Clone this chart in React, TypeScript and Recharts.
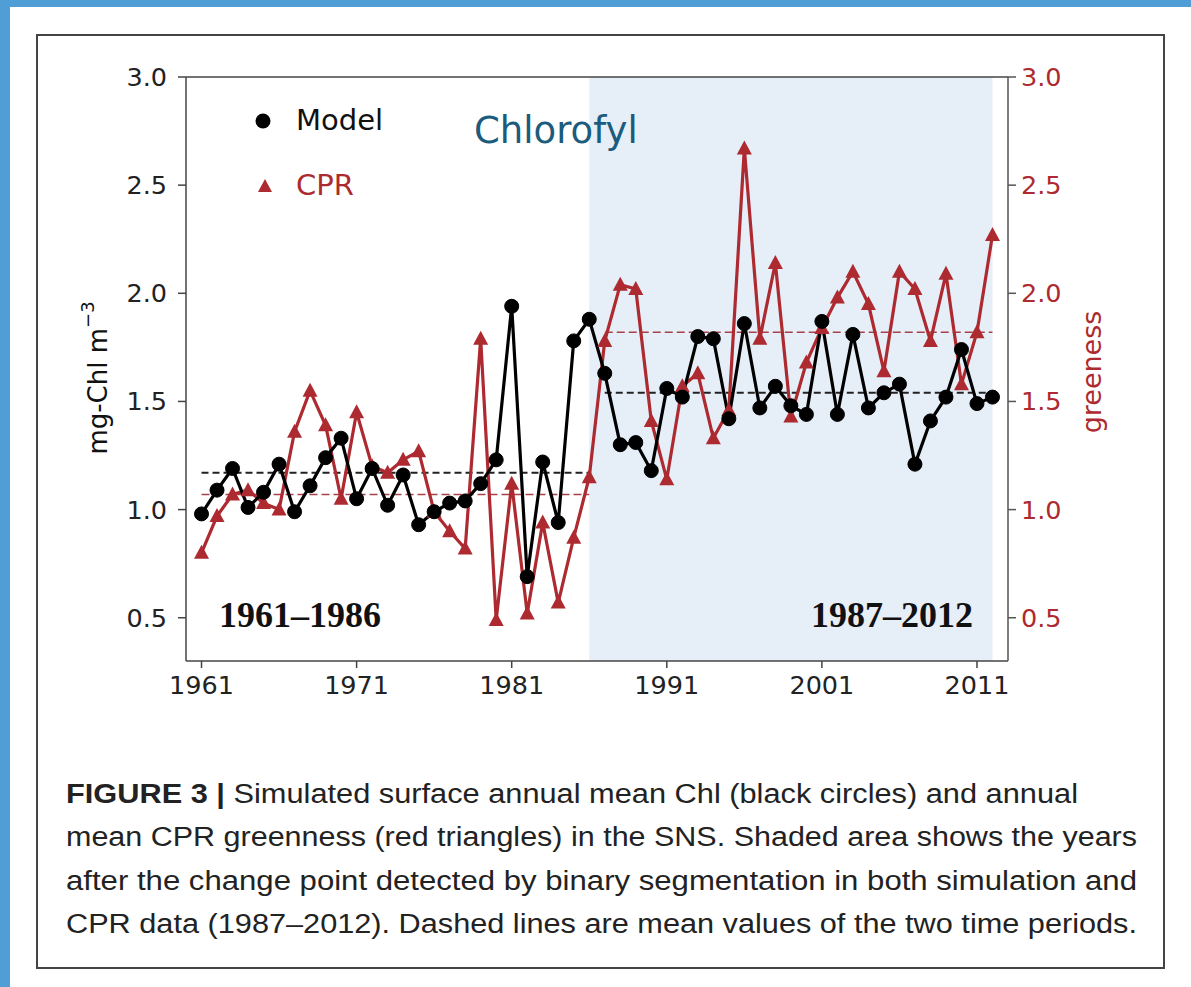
import React from 'react';
import {
  ComposedChart,
  Line,
  XAxis,
  YAxis,
  ReferenceArea,
  ReferenceLine,
  Legend,
} from 'recharts';

// years of the series
const years = [
  1961, 1962, 1963, 1964, 1965, 1966, 1967, 1968, 1969, 1970,
  1971, 1972, 1973, 1974, 1975, 1976, 1977, 1978, 1979, 1980,
  1981, 1982, 1983, 1984, 1985, 1986, 1987, 1988, 1989, 1990,
  1991, 1992, 1993, 1994, 1995, 1996, 1997, 1998, 1999, 2000,
  2001, 2002, 2003, 2004, 2005, 2006, 2007, 2008, 2009, 2010,
  2011, 2012,
];

// simulated annual mean Chl (mg-Chl m-3)
const modelChl = [
  0.98, 1.09, 1.19, 1.01, 1.08, 1.21, 0.99, 1.11, 1.24, 1.33,
  1.05, 1.19, 1.02, 1.16, 0.93, 0.99, 1.03, 1.04, 1.12, 1.23,
  1.94, 0.69, 1.22, 0.94, 1.78, 1.88, 1.63, 1.30, 1.31, 1.18,
  1.56, 1.52, 1.80, 1.79, 1.42, 1.86, 1.47, 1.57, 1.48, 1.44,
  1.87, 1.44, 1.81, 1.47, 1.54, 1.58, 1.21, 1.41, 1.52, 1.74,
  1.49, 1.52,
];

// CPR greenness
const cprGreenness = [
  0.80, 0.97, 1.07, 1.09, 1.03, 1.00, 1.36, 1.55, 1.39, 1.05,
  1.45, 1.20, 1.17, 1.23, 1.27, 0.99, 0.90, 0.82, 1.79, 0.49,
  1.12, 0.52, 0.94, 0.57, 0.87, 1.15, 1.78, 2.04, 2.02, 1.41,
  1.14, 1.57, 1.63, 1.33, 1.46, 2.67, 1.79, 2.14, 1.43, 1.68,
  1.84, 1.98, 2.10, 1.95, 1.64, 2.10, 2.02, 1.78, 2.09, 1.58,
  1.82, 2.27,
];

// period means (first period, second period)
const periods = [
  [1961, 1986],
  [1987, 2012],
];
const modelMeans = [1.17, 1.54];
const cprMeans = [1.07, 1.82];

const xTicks = [1961, 1971, 1981, 1991, 2001, 2011];
const yTicks = [0.5, 1.0, 1.5, 2.0, 2.5, 3.0];

const RED = '#ad2a30';
const TICK_FONT = { fontFamily: 'DejaVu Sans', fontSize: 25.5 };

const data = years.map((year, i) => ({
  year,
  model: modelChl[i],
  cpr: cprGreenness[i],
}));

const TriangleDot = (props: any) => {
  const { cx, cy, index } = props;
  if (cx == null || cy == null) return null;
  return (
    <polygon
      key={`tri-${index}`}
      points={`${cx},${cy - 8} ${cx - 7.5},${cy + 6} ${cx + 7.5},${cy + 6}`}
      fill={RED}
    />
  );
};

const LegendBox = () => (
  <div style={{ fontFamily: 'DejaVu Sans', fontSize: 29, lineHeight: '65px' }}>
    <div style={{ display: 'flex', alignItems: 'center', color: '#111' }}>
      <svg width={46} height={30}>
        <circle cx={13} cy={15} r={7.5} fill="#000" />
      </svg>
      <span>Model</span>
    </div>
    <div style={{ display: 'flex', alignItems: 'center', color: RED }}>
      <svg width={46} height={30}>
        <polygon points="15,8 8,21 22,21" fill={RED} />
      </svg>
      <span>CPR</span>
    </div>
  </div>
);

const captionLines = [
  { bold: 'FIGURE 3 | ', text: 'Simulated surface annual mean Chl (black circles) and annual', len: 1012 },
  { bold: '', text: 'mean CPR greenness (red triangles) in the SNS. Shaded area shows the years', len: 1071 },
  { bold: '', text: 'after the change point detected by binary segmentation in both simulation and', len: 1071 },
  { bold: '', text: 'CPR data (1987\u20132012). Dashed lines are mean values of the two time periods.', len: 1071 },
];

export default function App() {
  return (
    <div
      style={{
        position: 'absolute',
        left: 0,
        top: 0,
        width: 1191,
        height: 987,
        background: '#fff',
        overflow: 'hidden',
      }}
    >
      {/* slide frame */}
      <div style={{ position: 'absolute', left: 0, top: 0, width: 1191, height: 7, background: '#4f9ed6' }} />
      <div style={{ position: 'absolute', left: 0, top: 0, width: 10, height: 987, background: '#4f9ed6' }} />
      <div
        style={{
          position: 'absolute',
          left: 36,
          top: 34,
          width: 1125,
          height: 931,
          border: '2px solid #444',
          boxSizing: 'content-box',
        }}
      />

      <div style={{ position: 'absolute', left: 0, top: 0 }}>
        <ComposedChart
          width={1191}
          height={987}
          data={data}
          margin={{ top: 77, right: 123, left: 126, bottom: 286 }}
        >
          <ReferenceArea
            yAxisId="left"
            x1={1986}
            x2={2012}
            y1={0.3}
            y2={3.0}
            fill="#e6eef7"
            fillOpacity={1}
            stroke="none"
            ifOverflow="visible"
          />
          <XAxis
            dataKey="year"
            type="number"
            domain={[1960, 2013]}
            ticks={xTicks}
            allowDataOverflow
            height={40}
            tick={{ ...TICK_FONT, fill: '#222' }}
            tickSize={7}
            tickMargin={8}
            axisLine={{ stroke: '#444', strokeWidth: 1.5 }}
            tickLine={{ stroke: '#444', strokeWidth: 1.5 }}
          />
          <YAxis
            yAxisId="left"
            orientation="left"
            domain={[0.3, 3.0]}
            ticks={yTicks}
            allowDataOverflow
            width={60}
            tickFormatter={(v: number) => v.toFixed(1)}
            tick={{ ...TICK_FONT, fill: '#222' }}
            tickSize={8}
            tickMargin={11}
            axisLine={{ stroke: '#444', strokeWidth: 1.5 }}
            tickLine={{ stroke: '#444', strokeWidth: 1.5 }}
          />
          <YAxis
            yAxisId="right"
            orientation="right"
            domain={[0.3, 3.0]}
            ticks={yTicks}
            allowDataOverflow
            width={60}
            tickFormatter={(v: number) => v.toFixed(1)}
            tick={{ ...TICK_FONT, fill: RED }}
            tickSize={8}
            tickMargin={5}
            axisLine={{ stroke: '#555', strokeWidth: 1.5 }}
            tickLine={{ stroke: '#555', strokeWidth: 1.5 }}
          />
          {/* top spine */}
          <ReferenceLine yAxisId="left" y={3.0} stroke="#444" strokeWidth={1.5} ifOverflow="visible" />

          {periods.map((p, i) => (
            <ReferenceLine
              key={`m-${i}`}
              yAxisId="left"
              segment={[
                { x: p[0], y: modelMeans[i] },
                { x: p[1], y: modelMeans[i] },
              ]}
              stroke="#222"
              strokeWidth={2}
              strokeDasharray="7 4"
            />
          ))}
          {periods.map((p, i) => (
            <ReferenceLine
              key={`c-${i}`}
              yAxisId="right"
              segment={[
                { x: p[0], y: cprMeans[i] },
                { x: p[1], y: cprMeans[i] },
              ]}
              stroke="#a8424a"
              strokeWidth={1.6}
              strokeDasharray="8 4"
            />
          ))}

          <Line
            yAxisId="right"
            dataKey="cpr"
            name="CPR"
            stroke={RED}
            strokeWidth={3.2}
            dot={<TriangleDot />}
            activeDot={false}
            isAnimationActive={false}
          />
          <Line
            yAxisId="left"
            dataKey="model"
            name="Model"
            stroke="#000"
            strokeWidth={3.2}
            dot={{ r: 7, fill: '#000', stroke: '#000', strokeWidth: 1 }}
            activeDot={false}
            isAnimationActive={false}
          />
          <Legend
            layout="vertical"
            align="center"
            verticalAlign="middle"
            content={<LegendBox />}
            wrapperStyle={{ position: 'absolute', left: 250, top: 88, width: 200, height: 130 }}
          />
        </ComposedChart>
      </div>

      {/* annotations */}
      <svg
        width={1191}
        height={987}
        style={{ position: 'absolute', left: 0, top: 0, pointerEvents: 'none' }}
      >
        <text x={474} y={143} fontFamily="DejaVu Sans" fontSize={37} fill="#1b5b7d">
          Chlorofyl
        </text>
        <text
          x={300}
          y={627}
          textAnchor="middle"
          fontFamily="Liberation Serif"
          fontWeight="bold"
          fontSize={36}
          fill="#111"
        >
          1961–1986
        </text>
        <text
          x={892}
          y={627}
          textAnchor="middle"
          fontFamily="Liberation Serif"
          fontWeight="bold"
          fontSize={36}
          fill="#111"
        >
          1987–2012
        </text>
        <text
          transform="translate(98,378) rotate(-90)"
          textAnchor="middle"
          dominantBaseline="central"
          fontFamily="DejaVu Sans"
          fontSize={26}
          fill="#111"
        >
          mg-Chl m<tspan dy={-11} fontSize={18}>−3</tspan>
        </text>
        <text
          transform="translate(1091,372) rotate(-90)"
          textAnchor="middle"
          dominantBaseline="central"
          fontFamily="DejaVu Sans"
          fontSize={27}
          fill={RED}
        >
          greeness
        </text>
        {captionLines.map((l, i) => (
          <text
            key={i}
            x={66}
            y={803 + i * 43.3}
            fontFamily="Liberation Sans"
            fontSize={27}
            fill="#222"
            textLength={l.len}
            lengthAdjust="spacingAndGlyphs"
          >
            {l.bold && <tspan fontWeight="bold">{l.bold}</tspan>}
            {l.text}
          </text>
        ))}
      </svg>
    </div>
  );
}
